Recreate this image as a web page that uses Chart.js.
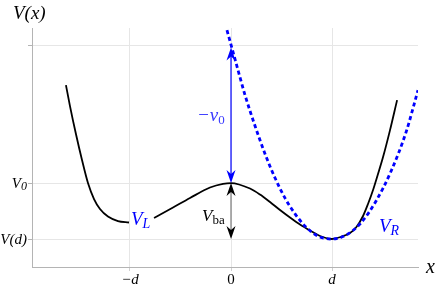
<!DOCTYPE html>
<html>
<head>
<meta charset="utf-8">
<script src="https://cdn.jsdelivr.net/npm/chart.js@4"></script>
<style>
html, body { margin: 0; padding: 0; background: #fff; }
#wrap { width: 436px; height: 288px; }
</style>
</head>
<body>
<div id="wrap"><canvas id="myChart"></canvas></div>
<script>
// double well V(x) (x in units of d, y: V(d)=0, V0=1)
var potX = [-1.634, -1.594, -1.535, -1.475, -1.416, -1.356, -1.297, -1.218, -1.119, -1.01, -0.9,
            -0.762, -0.574, -0.406, -0.208, -0.079, 0,
            0.188, 0.287, 0.386, 0.485, 0.584, 0.683, 0.782, 0.881, 1.0,
            1.089, 1.178, 1.238, 1.307, 1.356, 1.406, 1.455, 1.505, 1.574, 1.644];
var potY = [2.75, 2.375, 1.875, 1.411, 1.0, 0.714, 0.536, 0.402, 0.321, 0.295, null,
            0.375, 0.5625, 0.732, 0.92, 0.986, 1.0,
            0.902, 0.795, 0.661, 0.518, 0.384, 0.259, 0.152, 0.054, 0,
            0.039, 0.107, 0.205, 0.411, 0.625, 0.875, 1.161, 1.464, 1.946, 2.482];
// harmonic approximation V_R around d (dashed)
var harmX = [-0.04, 0.04, 0.139, 0.238, 0.337, 0.436, 0.535, 0.634, 0.733, 0.861, 1.0, 1.139, 1.287, 1.436, 1.584, 1.733, 1.851];
var harmY = [3.73, 3.21, 2.57, 2.02, 1.52, 1.09, 0.73, 0.45, 0.23, 0.05, 0, 0.07, 0.29, 0.68, 1.21, 1.91, 2.66];

var xTickValues = [-1, 0, 1];
var xTickLabels = ['\u2212d', '0', 'd'];
var yTickValues = [0, 1, 3.45];
var yTickLabels = [['V', '(d)'], ['V', '0'], null];

var V0 = 1;
var Vd = 0;
var arrowTop = 3.42;

var blue = '#0000ff';
var serifFamily = '"Liberation Serif", serif';

function toXY(xs, ys) {
    return xs.map(function (x, i) { return { x: x, y: ys[i] }; });
}

// main text with optional subscript after it
function subText(c, x, y, main, sub, opt) {
    opt = opt || {};
    var size = opt.size || 14;
    var subSize = opt.subSize || Math.round(size * 0.72);
    var mainFont = (opt.mainUpright ? '' : 'italic ') + size + 'px ' + serifFamily;
    var subFont = (opt.subUpright ? '' : 'italic ') + subSize + 'px ' + serifFamily;
    c.save();
    c.fillStyle = opt.color || '#000';
    c.textBaseline = 'alphabetic';
    c.textAlign = 'left';
    c.font = mainFont;
    var w1 = c.measureText(main).width + (opt.gap || 0);
    c.font = subFont;
    var w2 = sub ? c.measureText(sub).width : 0;
    var start = x;
    if (opt.align === 'right') start = x - w1 - w2;
    if (opt.align === 'center') start = x - (w1 + w2) / 2;
    c.font = mainFont;
    c.fillText(main, start, y);
    if (sub) {
        c.font = subFont;
        c.fillText(sub, start + w1, y + (opt.subDrop || 3));
    }
    c.restore();
}

function arrowHead(c, x, y, dir, color) {
    // dir = -1 tip pointing up, 1 pointing down
    c.save();
    c.fillStyle = color;
    c.beginPath();
    c.moveTo(x, y);
    c.lineTo(x - 4.5, y - dir * 13);
    c.lineTo(x, y - dir * 9);
    c.lineTo(x + 4.5, y - dir * 13);
    c.closePath();
    c.fill();
    c.restore();
}

var labelsPlugin = {
    id: 'labels',
    afterDatasetsDraw: function (chart) {
        var c = chart.ctx;
        var xs = chart.scales.x, ys = chart.scales.y;
        var px0 = xs.getPixelForValue(0);
        var pV0 = ys.getPixelForValue(V0);
        var pVd = ys.getPixelForValue(Vd);
        var pTop = ys.getPixelForValue(arrowTop);

        // -v0 arrow
        c.save();
        c.strokeStyle = blue;
        c.lineWidth = 1.2;
        c.beginPath();
        c.moveTo(px0, pTop + 8);
        c.lineTo(px0, pV0 - 8);
        c.stroke();
        c.restore();
        arrowHead(c, px0, pTop, -1, blue);
        arrowHead(c, px0, pV0, 1, blue);

        // V_ba arrow
        c.save();
        c.strokeStyle = '#8c8c8c';
        c.lineWidth = 1.4;
        c.beginPath();
        c.moveTo(px0, pV0 + 8);
        c.lineTo(px0, pVd - 8);
        c.stroke();
        c.restore();
        arrowHead(c, px0, pV0, -1, '#000');
        arrowHead(c, px0, pVd, 1, '#000');
    },
    afterDraw: function (chart) {
        var c = chart.ctx;
        var xs = chart.scales.x, ys = chart.scales.y;
        var left = chart.chartArea.left, bottom = chart.chartArea.bottom;

        // axis titles
        subText(c, 13, 19, 'V(x)', null, { size: 19 });
        subText(c, 426, 273, 'x', null, { size: 20 });

        // tick labels
        xTickValues.forEach(function (v, i) {
            subText(c, xs.getPixelForValue(v), bottom + 17, xTickLabels[i], null,
                { size: 15, align: 'center', mainUpright: xTickLabels[i] === '0' });
        });
        yTickValues.forEach(function (v, i) {
            var t = yTickLabels[i];
            if (!t) return;
            var py = ys.getPixelForValue(v) + 5;
            if (t[1] === '0') {
                subText(c, left - 5, py, t[0], t[1], { size: 15, subSize: 12, align: 'right', subDrop: 2 });
            } else {
                subText(c, left - 5, py, t[0] + t[1], null, { size: 15, align: 'right' });
            }
        });

        // curve labels
        subText(c, 131, 225, 'V', 'L', { size: 19, subSize: 14, color: blue, subDrop: 3 });
        subText(c, 379, 232, 'V', 'R', { size: 19, subSize: 14, color: blue, subDrop: 3 });
        subText(c, 197, 121, '\u2212v', '0', { size: 19, subSize: 13, color: '#3a3aff', subDrop: 3, subUpright: true });
        subText(c, 202, 221, 'V', 'ba', { size: 17, subSize: 13, subUpright: true, subDrop: 3 });
    }
};

var ctx = document.getElementById('myChart').getContext('2d');
var myChart = new Chart(ctx, {
    type: 'line',
    data: {
        datasets: [{
            label: 'V_R',
            data: toXY(harmX, harmY),
            borderColor: blue,
            borderWidth: 2.8,
            borderDash: [4, 3],
            pointRadius: 0,
            cubicInterpolationMode: 'monotone',
            fill: false
        }, {
            label: 'V',
            data: toXY(potX, potY),
            borderColor: '#000',
            borderWidth: 1.8,
            pointRadius: 0,
            cubicInterpolationMode: 'monotone',
            spanGaps: false,
            fill: false
        }]
    },
    options: {
        responsive: true,
        maintainAspectRatio: false,
        animation: false,
        layout: { padding: { left: 0, top: 28, right: 18, bottom: 0 } },
        plugins: { legend: { display: false }, tooltip: { enabled: false } },
        scales: {
            x: {
                type: 'linear',
                min: -1.97,
                max: 1.851,
                afterBuildTicks: function (scale) {
                    scale.ticks = xTickValues.map(function (v) { return { value: v }; });
                },
                afterFit: function (scale) { scale.height = 21; },
                grid: { color: '#e6e6e6', tickColor: '#d0d0d0', tickLength: 4 },
                border: { color: '#b4b4b4' },
                ticks: { display: false }
            },
            y: {
                type: 'linear',
                min: -0.5,
                max: 3.77,
                afterBuildTicks: function (scale) {
                    scale.ticks = yTickValues.map(function (v) { return { value: v }; });
                },
                afterFit: function (scale) { scale.width = 32; },
                grid: { color: '#e6e6e6', tickColor: '#b4b4b4', tickLength: 4 },
                border: { color: '#b4b4b4' },
                ticks: { display: false }
            }
        }
    },
    plugins: [labelsPlugin]
});
</script>
</body>
</html>
